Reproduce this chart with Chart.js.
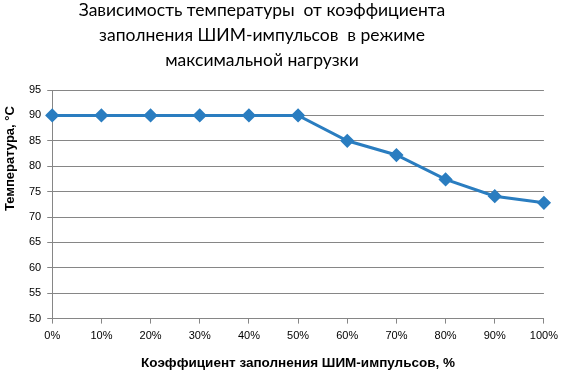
<!DOCTYPE html>
<html><head><meta charset="utf-8">
<script src="https://cdn.jsdelivr.net/npm/chart.js@4"></script>
<style>html,body{margin:0;padding:0;background:#fff}canvas{display:block}</style>
</head><body>
<canvas id="c" width="564" height="370"></canvas>
<script>
const categories = ['0%','10%','20%','30%','40%','50%','60%','70%','80%','90%','100%'];
const temperature = [90, 90, 90, 90, 90, 90, 85, 82.2, 77.4, 74.1, 72.8];
const titleLines = ['Зависимость температуры  от коэффициента', 'заполнения ШИМ-импульсов  в режиме', 'максимальной нагрузки'];
const xTitle = 'Коэффициент заполнения ШИМ-импульсов, %';
const yTitle = 'Температура, °C';

const gray = '#868686';
const blue = '#2a7dc0';

const textPlugin = {
  id: 'texts',
  afterDraw(chart) {
    const ctx = chart.ctx;
    const y = chart.scales.y;
    ctx.save();
    ctx.fillStyle = '#000';
    ctx.textAlign = 'center';
    ctx.textBaseline = 'alphabetic';
    ctx.font = '17.5px Lato';
    titleLines.forEach((t, i) => ctx.fillText(t, 262, 16 + i * 24.8));
    ctx.font = 'bold 13px "Liberation Sans"';
    ctx.textBaseline = 'middle';
    ctx.translate(10, y.getPixelForValue(81.5));
    ctx.rotate(-Math.PI / 2);
    ctx.fillText(yTitle, 0, 0);
    ctx.restore();
  }
};

new Chart(document.getElementById('c'), {
  type: 'line',
  data: { labels: categories, datasets: [{
    data: temperature, borderColor: blue, backgroundColor: blue, borderWidth: 3,
    pointStyle: 'rectRot', pointRadius: 5, pointHoverRadius: 5, tension: 0
  }]},
  plugins: [textPlugin],
  options: {
    responsive: false, animation: false,
    layout: { padding: { left: 23, right: 16, top: 90, bottom: -1 } },
    plugins: {
      legend: { display: false }, tooltip: { enabled: false }, title: { display: false }
    },
    scales: {
      x: { offset: false,
        grid: { drawOnChartArea: false, drawTicks: true, tickLength: 5, color: gray },
        border: { color: gray },
        ticks: { color: '#000', font: { family: 'Liberation Sans', size: 11 }, maxRotation: 0, padding: 6 },
        title: { display: true, text: xTitle, color: '#000', font: { family: 'Liberation Sans', size: 13.5, weight: 'bold' }, padding: { top: 6, bottom: 0 } }
      },
      y: { min: 50, max: 95,
        grid: { color: gray, tickLength: 5 },
        border: { color: gray },
        ticks: { stepSize: 5, color: '#000', font: { family: 'Liberation Sans', size: 11 }, padding: 6 }
      }
    }
  }
});
</script>
</body></html>
